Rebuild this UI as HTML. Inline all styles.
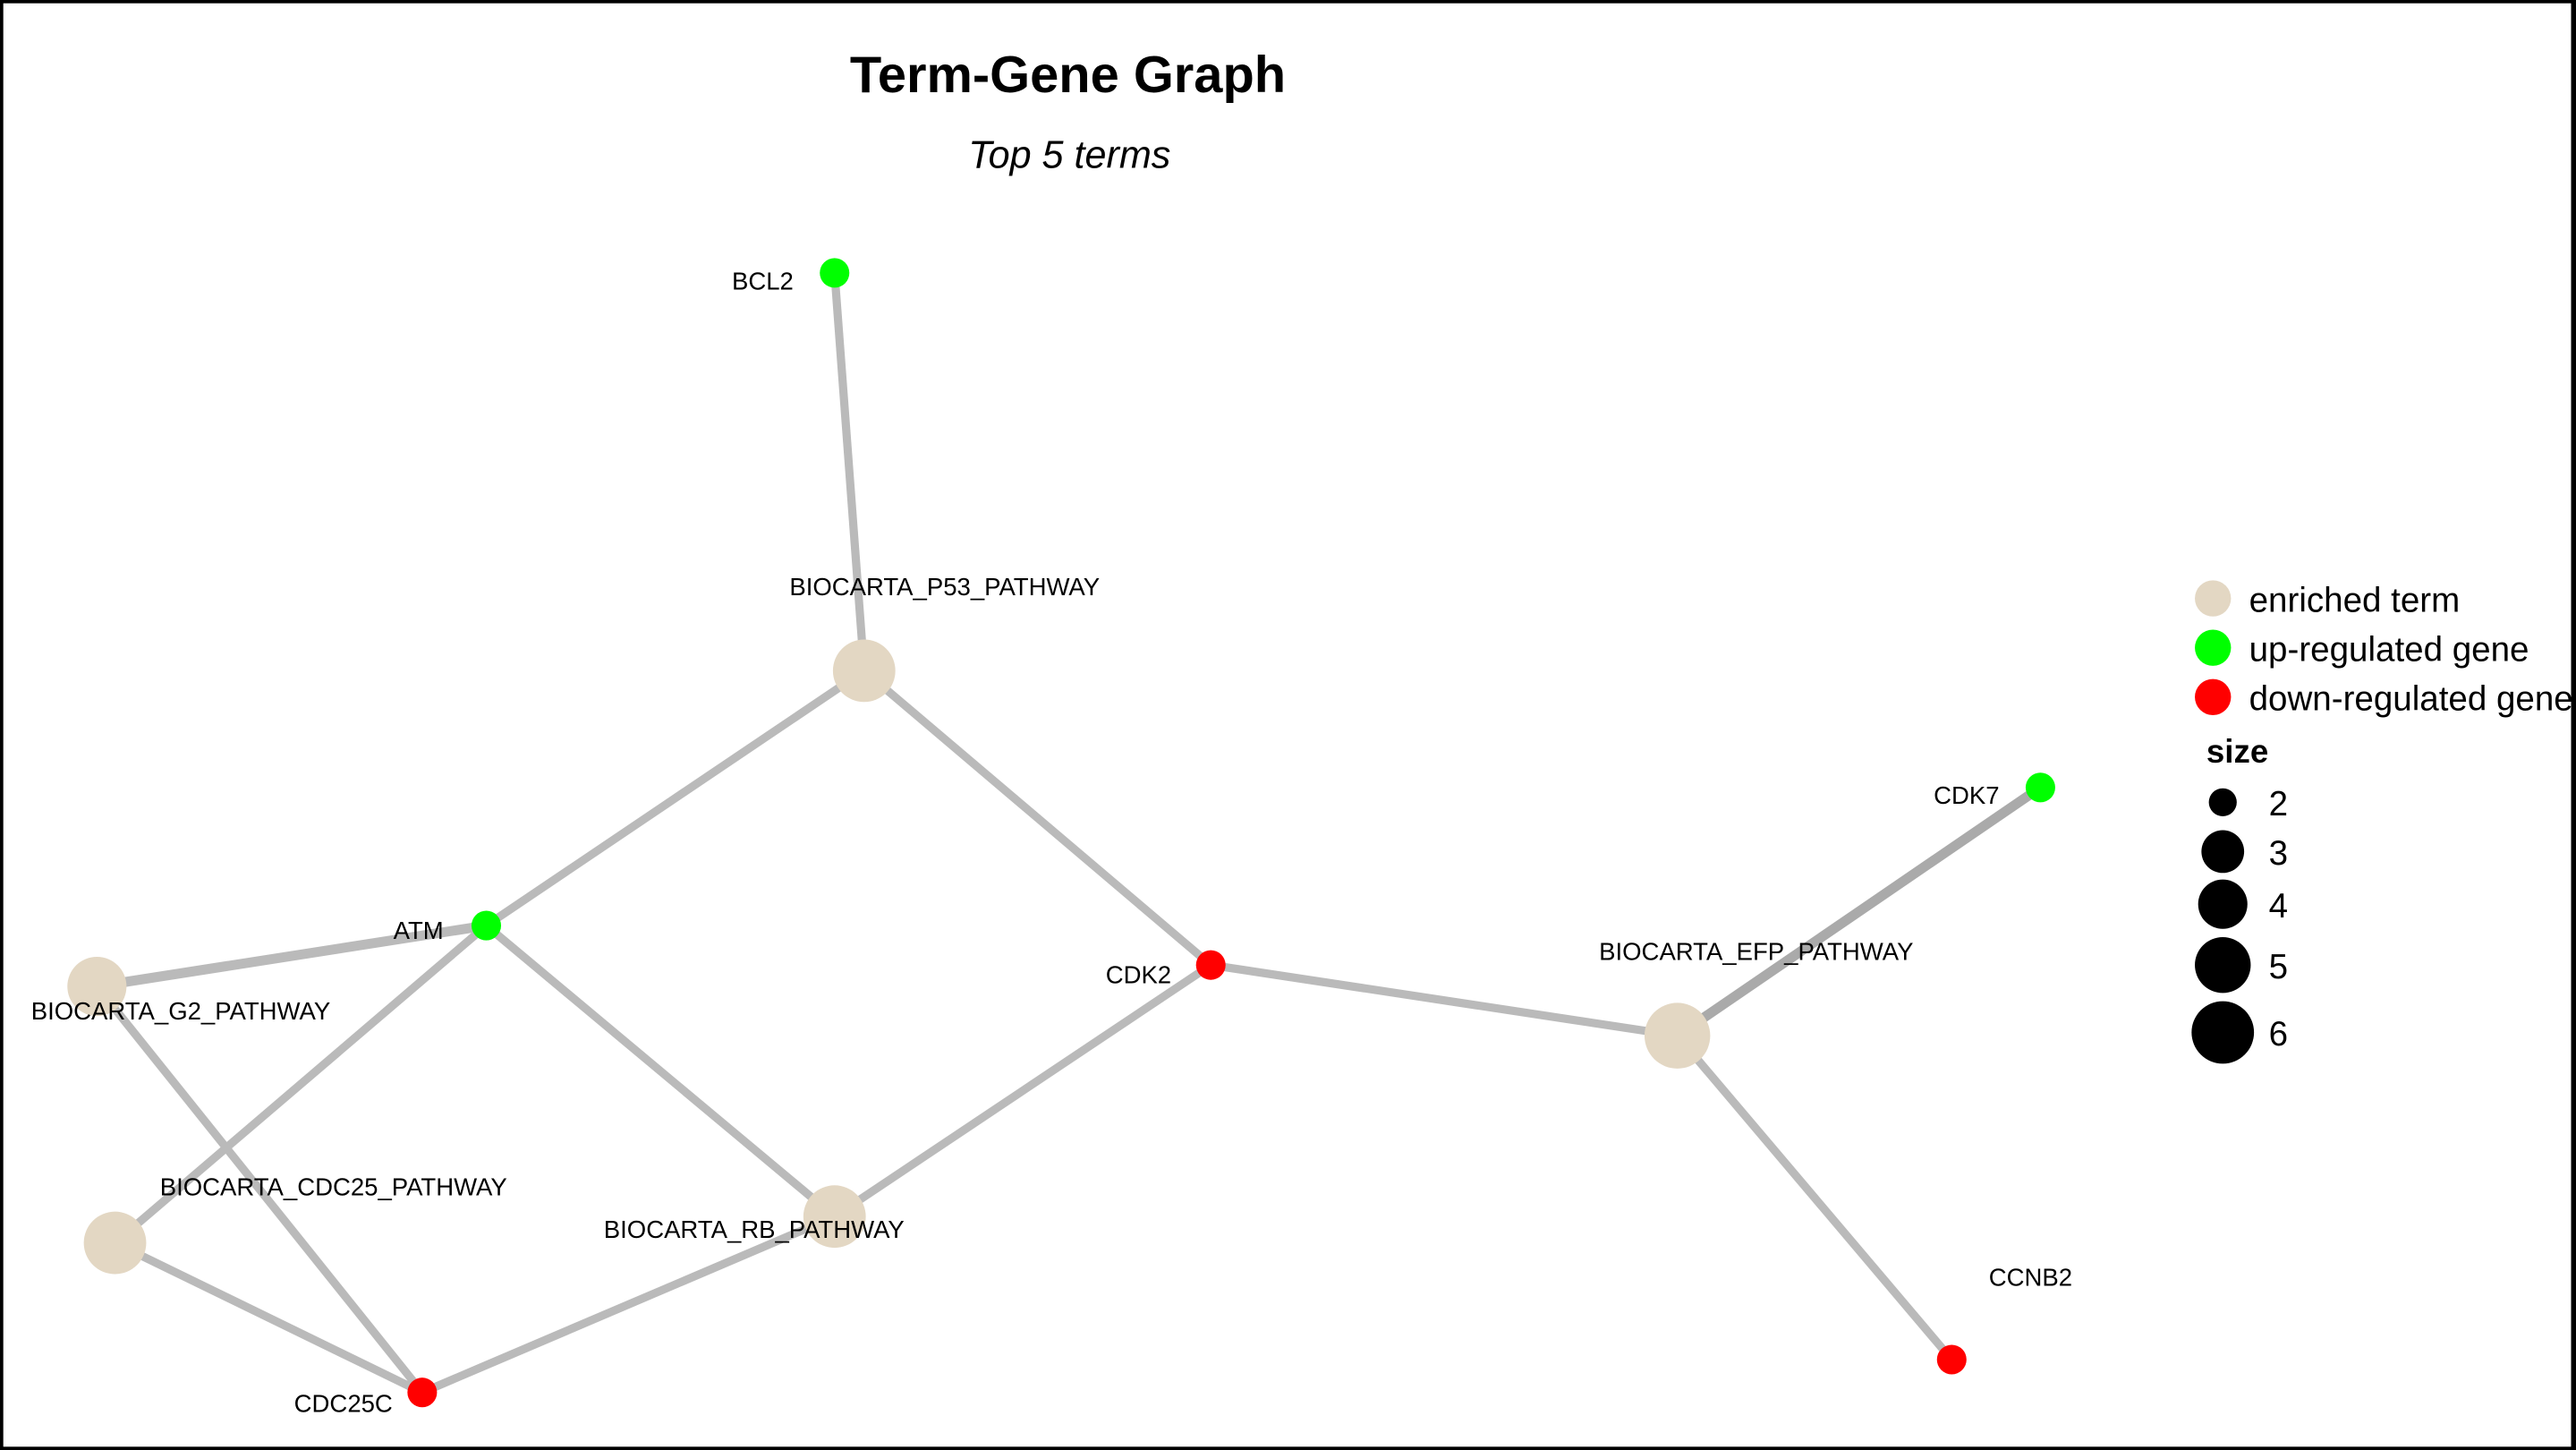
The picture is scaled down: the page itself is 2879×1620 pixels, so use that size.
<!DOCTYPE html>
<html><head><meta charset="utf-8"><style>
html,body{margin:0;padding:0;background:#fff;}
svg{display:block;}
text{font-family:"Liberation Sans",Arial,sans-serif;}
</style></head><body>
<svg width="2879" height="1620" viewBox="0 0 1568 882" preserveAspectRatio="none" xmlns="http://www.w3.org/2000/svg">
<rect x="1" y="1" width="1566" height="880" fill="#fff" stroke="#000" stroke-width="2"/>
<text x="650" y="56" font-size="31.5" font-weight="bold" text-anchor="middle">Term-Gene Graph</text>
<text x="651" y="102" font-size="23.5" font-style="italic" text-anchor="middle">Top 5 terms</text>
<g stroke="#bababa" stroke-width="5" fill="none">
<line x1="508" y1="166" x2="526" y2="408"/>
<line x1="526" y1="408" x2="296" y2="563"/>
<line x1="526" y1="408" x2="737" y2="587"/>
<line x1="296" y1="563" x2="59" y2="600" stroke-width="6"/>
<line x1="296" y1="563" x2="70" y2="756"/>
<line x1="296" y1="563" x2="508" y2="740"/>
<line x1="59" y1="600" x2="257" y2="847"/>
<line x1="70" y1="756" x2="257" y2="847"/>
<line x1="508" y1="740" x2="257" y2="847"/>
<line x1="508" y1="740" x2="737" y2="587"/>
<line x1="737" y1="587" x2="1021" y2="630"/>
<line x1="1021" y1="630" x2="1242" y2="479" stroke="#aaa" stroke-width="6"/>
<line x1="1021" y1="630" x2="1188" y2="827"/>
</g>
<g fill="#e3d7c3">
<circle cx="526" cy="408" r="19"/>
<circle cx="59" cy="600" r="18"/>
<circle cx="70" cy="756" r="19"/>
<circle cx="508" cy="740" r="19"/>
<circle cx="1021" cy="630" r="20"/>
</g>
<g fill="#00ff00">
<circle cx="508" cy="166" r="9"/>
<circle cx="296" cy="563" r="9"/>
<circle cx="1242" cy="479" r="9"/>
</g>
<g fill="#ff0000">
<circle cx="257" cy="847" r="9"/>
<circle cx="737" cy="587" r="9"/>
<circle cx="1188" cy="827" r="9"/>
</g>
<g font-size="15">
<text x="483" y="176" text-anchor="end">BCL2</text>
<text x="575" y="362" text-anchor="middle">BIOCARTA_P53_PATHWAY</text>
<text x="270" y="571" text-anchor="end">ATM</text>
<text x="110" y="620" text-anchor="middle">BIOCARTA_G2_PATHWAY</text>
<text x="203" y="727" text-anchor="middle">BIOCARTA_CDC25_PATHWAY</text>
<text x="459" y="753" text-anchor="middle">BIOCARTA_RB_PATHWAY</text>
<text x="239" y="859" text-anchor="end">CDC25C</text>
<text x="713" y="598" text-anchor="end">CDK2</text>
<text x="1069" y="584" text-anchor="middle">BIOCARTA_EFP_PATHWAY</text>
<text x="1217" y="489" text-anchor="end">CDK7</text>
<text x="1236" y="782" text-anchor="middle">CCNB2</text>
</g>
<circle cx="1347" cy="364" r="11" fill="#e3d7c3"/>
<circle cx="1347" cy="394" r="11" fill="#00ff00"/>
<circle cx="1347" cy="424" r="11" fill="#ff0000"/>
<g font-size="21">
<text x="1369" y="372">enriched term</text>
<text x="1369" y="402">up-regulated gene</text>
<text x="1369" y="432">down-regulated gene</text>
<text x="1343" y="464" font-weight="bold" font-size="20">size</text>
<text x="1381" y="496">2</text>
<text x="1381" y="526">3</text>
<text x="1381" y="558">4</text>
<text x="1381" y="595">5</text>
<text x="1381" y="636">6</text>
</g>
<g fill="#000">
<circle cx="1353" cy="488" r="8.5"/>
<circle cx="1353" cy="518" r="13"/>
<circle cx="1353" cy="550" r="15"/>
<circle cx="1353" cy="587" r="17"/>
<circle cx="1353" cy="628" r="19"/>
</g>
<rect x="1565" y="0" width="3" height="882" fill="#000"/>
</svg>
</body></html>
